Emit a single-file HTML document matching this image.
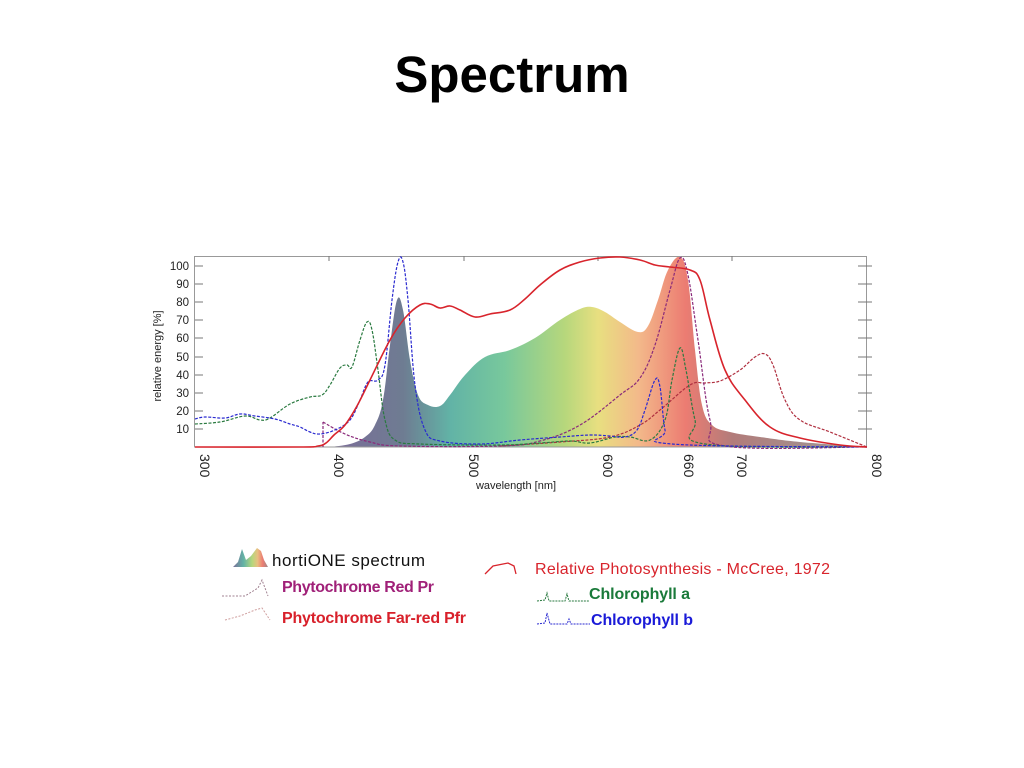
<!DOCTYPE html>
<html><head><meta charset="utf-8"><style>
html,body{margin:0;padding:0;background:#fff;width:1024px;height:768px;overflow:hidden}
svg text{font-family:"Liberation Sans",sans-serif}
</style></head><body>
<svg id="s" width="1024" height="768" viewBox="0 0 1024 768" xmlns="http://www.w3.org/2000/svg">
<defs>
<linearGradient id="sg" x1="195" x2="867" y1="0" y2="0" gradientUnits="userSpaceOnUse">
<stop offset="0.22" stop-color="#7a6f98"/>
<stop offset="0.31" stop-color="#6e7c92"/>
<stop offset="0.38" stop-color="#62b3a6"/>
<stop offset="0.46" stop-color="#78c89c"/>
<stop offset="0.55" stop-color="#b6d77c"/>
<stop offset="0.60" stop-color="#e8df80"/>
<stop offset="0.66" stop-color="#f3b98a"/>
<stop offset="0.73" stop-color="#ec7c72"/>
<stop offset="0.80" stop-color="#b27c7a"/>
<stop offset="1" stop-color="#9a9a9a"/>
</linearGradient>
<linearGradient id="lg" x1="0" x2="1" y1="0" y2="0">
<stop offset="0" stop-color="#7a6f98"/>
<stop offset="0.3" stop-color="#62b3a6"/>
<stop offset="0.55" stop-color="#b6d77c"/>
<stop offset="0.7" stop-color="#e8c080"/>
<stop offset="0.85" stop-color="#ec7c72"/>
<stop offset="1" stop-color="#9a8a8a"/>
</linearGradient>
</defs>
<text x="512" y="92" text-anchor="middle" font-size="51" font-weight="bold" fill="#000">Spectrum</text>

<polygon class="sm" fill="url(#sg)" points="330,447 350,444 365,437 375,425 383,400 390,345 397,300 403,310 410,360 418,395 428,405 440,406 450,395 465,375 485,357 510,350 535,338 560,320 580,309 592,307 605,312 620,322 638,332 648,326 658,300 668,270 680,257 688,280 695,350 702,405 712,425 730,432 760,437 800,442 867,447"/>

<rect x="194.5" y="256.5" width="672" height="190.5" fill="none" stroke="#999" stroke-width="1"/>
<g stroke="#777" stroke-width="1">
<line x1="195" y1="429" x2="203" y2="429"/><line x1="195" y1="411" x2="203" y2="411"/><line x1="195" y1="393" x2="203" y2="393"/><line x1="195" y1="375" x2="203" y2="375"/><line x1="195" y1="357" x2="203" y2="357"/><line x1="195" y1="338" x2="203" y2="338"/><line x1="195" y1="320" x2="203" y2="320"/><line x1="195" y1="302" x2="203" y2="302"/><line x1="195" y1="284" x2="203" y2="284"/><line x1="195" y1="266" x2="203" y2="266"/>
<line x1="858" y1="429" x2="872" y2="429"/><line x1="858" y1="411" x2="872" y2="411"/><line x1="858" y1="393" x2="872" y2="393"/><line x1="858" y1="375" x2="872" y2="375"/><line x1="858" y1="357" x2="872" y2="357"/><line x1="858" y1="338" x2="872" y2="338"/><line x1="858" y1="320" x2="872" y2="320"/><line x1="858" y1="302" x2="872" y2="302"/><line x1="858" y1="284" x2="872" y2="284"/><line x1="858" y1="266" x2="872" y2="266"/>
<line x1="329" y1="256" x2="329" y2="261"/><line x1="464" y1="256" x2="464" y2="261"/><line x1="598" y1="256" x2="598" y2="261"/><line x1="732" y1="256" x2="732" y2="261"/>
</g>
<g font-size="11.5" fill="#222" text-anchor="end">
<text x="189" y="433">10</text><text x="189" y="415">20</text><text x="189" y="397">30</text><text x="189" y="379">40</text><text x="189" y="361">50</text><text x="189" y="342">60</text><text x="189" y="324">70</text><text x="189" y="306">80</text><text x="189" y="288">90</text><text x="189" y="270">100</text>
</g>
<text transform="translate(161,356) rotate(-90)" font-size="11" fill="#222" text-anchor="middle">relative energy [%]</text>
<g font-size="14" fill="#222">
<text transform="translate(200,454) rotate(90)">300</text>
<text transform="translate(334,454) rotate(90)">400</text>
<text transform="translate(469,454) rotate(90)">500</text>
<text transform="translate(603,454) rotate(90)">600</text>
<text transform="translate(684,454) rotate(90)">660</text>
<text transform="translate(737,454) rotate(90)">700</text>
<text transform="translate(872,454) rotate(90)">800</text>
</g>
<text x="516" y="489" font-size="11" fill="#222" text-anchor="middle">wavelength [nm]</text>

<g fill="none" stroke-width="1.2" stroke-dasharray="3,1.5">
<polyline class="sm" stroke="#b03040" points="500,446 560,442 610,437 640,425 660,410 690,385 705,383 720,381 740,370 755,357 765,354 773,365 785,400 800,420 830,432 867,447"/>
<polyline stroke="#8a2a7a" points="323,447 323,422"/>
<polyline class="sm" stroke="#8a2a7a" points="323,422 345,434 370,442 400,446 500,446 540,441 580,425 620,395 640,378 655,345 670,290 680,258 688,275 698,340 710,420 725,446 867,447"/>
<polyline class="sm" stroke="#2a7a40" points="195,424 220,422 245,416 260,420 270,418 290,404 310,397 322,395 330,385 340,368 347,365 352,367 360,340 367,322 372,330 378,370 385,420 395,440 420,444 500,445 540,443 570,441 590,443 615,437 630,437 650,440 665,420 672,380 680,348 686,370 695,420 705,444 867,447"/>
<polyline class="sm" stroke="#2a2ad0" points="195,419 205,417 225,418 240,414 255,416 275,419 290,424 300,427 310,432 320,434 335,430 350,420 360,400 368,382 378,380 385,365 392,300 398,262 403,262 408,300 415,385 425,430 440,441 480,444 520,440 560,437 590,435 610,436 625,437 637,430 645,410 655,380 660,387 665,430 672,444 867,447"/>
</g>
<polyline class="sm" fill="none" stroke="#d8242c" stroke-width="1.6" points="195,447 300,447 318,446 326,443 334,435 345,425 357,406 370,380 390,340 405,318 420,305 430,304 440,308 450,306 460,310 475,317 490,314 510,310 525,299 540,285 560,270 580,262 600,258 620,257 640,260 655,265 670,267 690,270 700,280 710,320 725,370 745,400 770,427 800,438 840,445 867,447"/>

<polygon fill="url(#lg)" points="233,567 238,562 242,549 246,560 251,556 257,548 261,551 264,560 268,567"/>
<text x="272" y="566" font-size="17" fill="#111" textLength="153">hortiONE spectrum</text>
<polyline fill="none" stroke="#a08090" stroke-width="1" stroke-dasharray="2,1.5" points="222,596 245,596 258,588 262,580 268,596"/>
<text x="282" y="592" font-size="16" font-weight="bold" fill="#a02078" textLength="152">Phytochrome Red Pr</text>
<polyline fill="none" stroke="#d0a0a0" stroke-width="1" stroke-dasharray="2,1.5" points="225,620 240,616 255,610 262,608 266,614 270,620"/>
<text x="282" y="623" font-size="16" font-weight="bold" fill="#d8202a" textLength="184">Phytochrome Far-red Pfr</text>
<path d="M485,574 L493,566 L508,563 L514,566 L516,574" fill="none" stroke="#d8242c" stroke-width="1.3"/>
<text x="535" y="574" font-size="16" fill="#d8242c" textLength="295">Relative Photosynthesis - McCree, 1972</text>
<polyline fill="none" stroke="#2a7a40" stroke-width="1" stroke-dasharray="2,1" points="537,601 545,600 547,593 549,601 565,601 567,594 569,601 589,601"/>
<text x="589" y="599" font-size="16" font-weight="bold" fill="#1a7a3a" textLength="101">Chlorophyll a</text>
<polyline fill="none" stroke="#2a2ad0" stroke-width="1" stroke-dasharray="2,1" points="537,624 545,623 547,613 550,624 567,624 569,619 571,624 590,624"/>
<text x="591" y="625" font-size="16" font-weight="bold" fill="#1a1ad8" textLength="102">Chlorophyll b</text>
</svg>
<script>
(function(){
var ns="http://www.w3.org/2000/svg";
var els=document.querySelectorAll(".sm");
for(var i=0;i<els.length;i++){
 var e=els[i];
 var pts=e.getAttribute("points").trim().split(/\s+/).map(function(p){var a=p.split(",");return[+a[0],+a[1]];});
 var d="M"+pts[0][0]+","+pts[0][1];
 for(var j=0;j<pts.length-1;j++){
  var p0=pts[j-1]||pts[j],p1=pts[j],p2=pts[j+1],p3=pts[j+2]||p2;
  var t=0.18;
  var c1x=p1[0]+(p2[0]-p0[0])*t,c1y=p1[1]+(p2[1]-p0[1])*t;
  var c2x=p2[0]-(p3[0]-p1[0])*t,c2y=p2[1]-(p3[1]-p1[1])*t;
  d+=" C"+c1x.toFixed(1)+","+c1y.toFixed(1)+" "+c2x.toFixed(1)+","+c2y.toFixed(1)+" "+p2[0]+","+p2[1];
 }
 if(e.tagName.toLowerCase()=="polygon")d+=" Z";
 var p=document.createElementNS(ns,"path");
 p.setAttribute("d",d);
 ["fill","stroke","stroke-width","stroke-dasharray"].forEach(function(a){if(e.getAttribute(a))p.setAttribute(a,e.getAttribute(a));});
 e.parentNode.replaceChild(p,e);
}
})();
</script>
</body></html>
